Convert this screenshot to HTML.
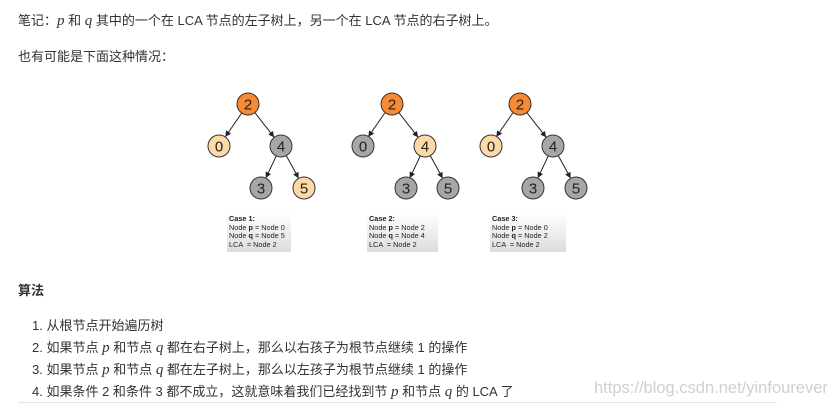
<!DOCTYPE html>
<html><head><meta charset="utf-8"><style>
html,body{margin:0;padding:0;background:#fff;}
body{width:827px;height:406px;position:relative;overflow:hidden;font-family:"Liberation Sans","Noto Sans CJK SC",sans-serif;color:#333;}
.t{position:absolute;font-size:13px;white-space:nowrap;line-height:16px;}
.m{font-family:"Liberation Serif",serif;font-style:italic;font-size:15px;}
.case{position:absolute;font-size:7.3px;line-height:8.5px;color:#222;padding:2px 2px;background:linear-gradient(#fff,#ddd);box-sizing:border-box;white-space:nowrap;}
</style></head><body>
<div class="t" style="left:18px;top:13px;">笔记：<span class="m">p</span> 和 <span class="m">q</span> 其中的一个在 LCA 节点的左子树上，另一个在 LCA 节点的右子树上。</div>
<div class="t" style="left:18px;top:49px;">也有可能是下面这种情况：</div>

<svg width="827" height="406" style="position:absolute;left:0;top:0" xmlns="http://www.w3.org/2000/svg">
<defs><marker id="a" markerWidth="6" markerHeight="6" refX="5" refY="3" orient="auto" markerUnits="userSpaceOnUse"><path d="M0,0 L6,3 L0,6 z" fill="#222"/></marker></defs>
<g stroke="#222" stroke-width="1" marker-end="url(#a)">
<line x1="241.7" y1="113.1" x2="225.8" y2="136.1"/>
<line x1="254.8" y1="112.6" x2="273.6" y2="136.6"/>
<line x1="276.3" y1="155.9" x2="266.2" y2="177.2"/>
<line x1="286.3" y1="155.6" x2="298.2" y2="177.5"/>
<line x1="384.7" y1="113.1" x2="368.8" y2="136.1"/>
<line x1="398.8" y1="112.6" x2="417.6" y2="136.6"/>
<line x1="420.3" y1="155.9" x2="410.2" y2="177.2"/>
<line x1="430.3" y1="155.6" x2="442.2" y2="177.5"/>
<line x1="512.7" y1="113.1" x2="496.8" y2="136.1"/>
<line x1="526.8" y1="112.6" x2="545.6" y2="136.6"/>
<line x1="548.3" y1="155.9" x2="538.2" y2="177.2"/>
<line x1="558.3" y1="155.6" x2="570.2" y2="177.5"/>
</g>
<g stroke="#333" stroke-width="1">
<circle cx="248" cy="104" r="11" fill="#f58a33"/>
<circle cx="219" cy="146" r="11" fill="#fdd9a8"/>
<circle cx="281" cy="146" r="11" fill="#a6a6a6"/>
<circle cx="261" cy="188" r="11" fill="#a6a6a6"/>
<circle cx="304" cy="188" r="11" fill="#fdd9a8"/>
<circle cx="392" cy="104" r="11" fill="#f58a33"/>
<circle cx="363" cy="146" r="11" fill="#a6a6a6"/>
<circle cx="425" cy="146" r="11" fill="#fdd9a8"/>
<circle cx="406" cy="188" r="11" fill="#a6a6a6"/>
<circle cx="448" cy="188" r="11" fill="#a6a6a6"/>
<circle cx="520" cy="104" r="11" fill="#f58a33"/>
<circle cx="491" cy="146" r="11" fill="#fdd9a8"/>
<circle cx="553" cy="146" r="11" fill="#a6a6a6"/>
<circle cx="533" cy="188" r="11" fill="#a6a6a6"/>
<circle cx="576" cy="188" r="11" fill="#a6a6a6"/>
</g>
<g font-family="Liberation Sans,sans-serif" font-size="15" fill="#222" text-anchor="middle">
<text x="248" y="109.5">2</text><text x="219" y="151.5">0</text><text x="281" y="151.5">4</text><text x="261" y="193.5">3</text><text x="304" y="193.5">5</text>
<text x="392" y="109.5">2</text><text x="363" y="151.5">0</text><text x="425" y="151.5">4</text><text x="406" y="193.5">3</text><text x="448" y="193.5">5</text>
<text x="520" y="109.5">2</text><text x="491" y="151.5">0</text><text x="553" y="151.5">4</text><text x="533" y="193.5">3</text><text x="576" y="193.5">5</text>
</g>
</svg>

<div class="case" style="left:227px;top:213px;width:64px;height:39px;"><b>Case 1:</b><br>Node <b>p</b> = Node 0<br>Node <b>q</b> = Node 5<br>LCA &nbsp;= Node 2</div>
<div class="case" style="left:367px;top:213px;width:71px;height:39px;"><b>Case 2:</b><br>Node <b>p</b> = Node 2<br>Node <b>q</b> = Node 4<br>LCA &nbsp;= Node 2</div>
<div class="case" style="left:490px;top:213px;width:76px;height:39px;"><b>Case 3:</b><br>Node <b>p</b> = Node 0<br>Node <b>q</b> = Node 2<br>LCA &nbsp;= Node 2</div>

<div class="t" style="left:18px;top:283px;font-weight:bold;">算法</div>
<div class="t" style="left:32px;top:318px;">1. 从根节点开始遍历树</div>
<div class="t" style="left:32px;top:340px;">2. 如果节点 <span class="m">p</span> 和节点 <span class="m">q</span> 都在右子树上，那么以右孩子为根节点继续 1 的操作</div>
<div class="t" style="left:32px;top:362px;">3. 如果节点 <span class="m">p</span> 和节点 <span class="m">q</span> 都在左子树上，那么以左孩子为根节点继续 1 的操作</div>
<div class="t" style="left:32px;top:384px;">4. 如果条件 2 和条件 3 都不成立，这就意味着我们已经找到节 <span class="m">p</span> 和节点 <span class="m">q</span> 的 LCA 了</div>
<div class="t" style="left:594px;top:380px;font-size:16.5px;color:#d0d0d0;letter-spacing:0px;">https://blog.csdn.net/yinfourever</div>
<div style="position:absolute;left:18px;top:402px;width:759px;height:0;border-top:1px solid #e4e4e4;"></div>
</body></html>
